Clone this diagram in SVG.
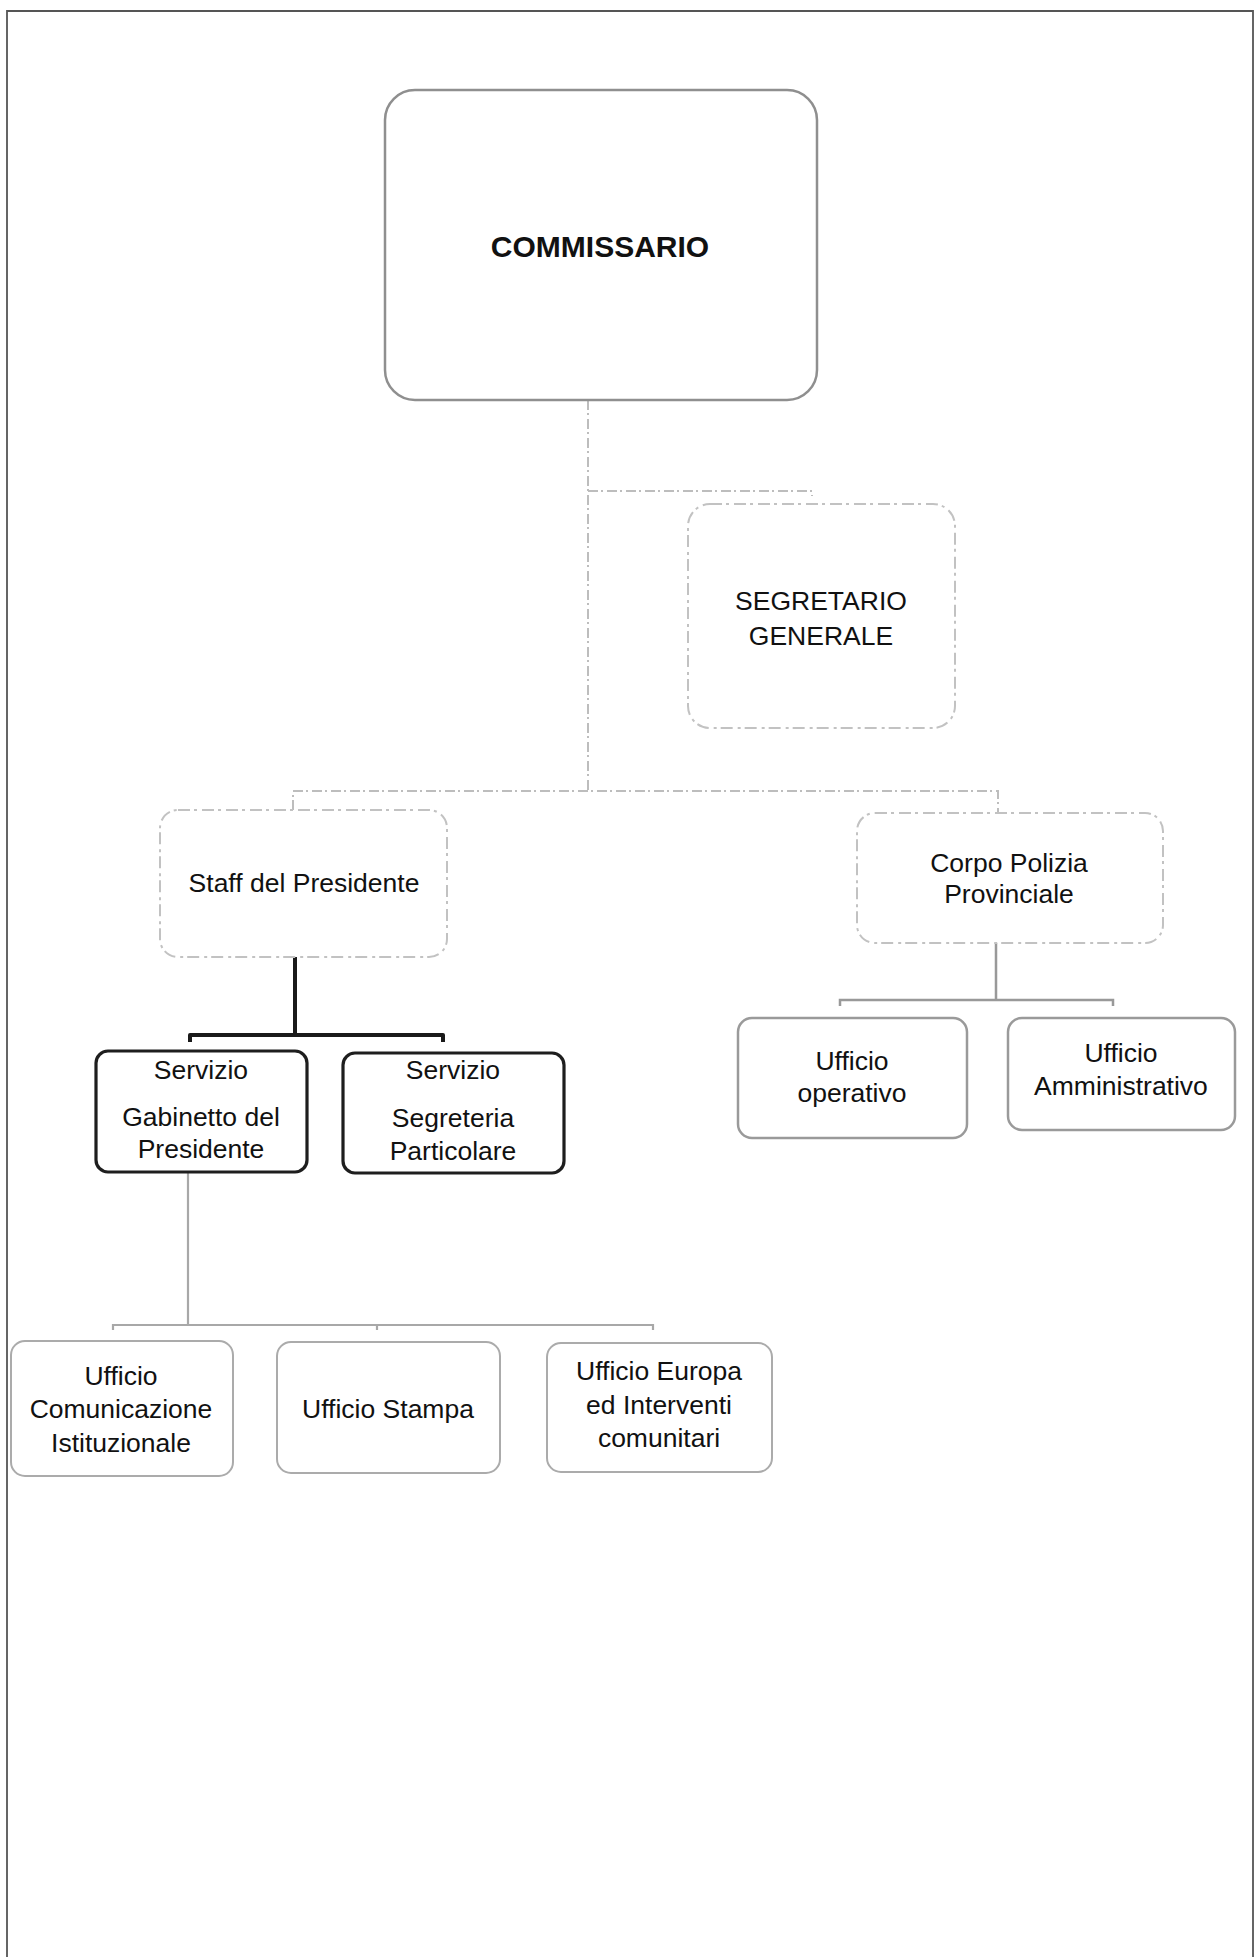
<svg xmlns="http://www.w3.org/2000/svg" width="1256" height="1957" viewBox="0 0 1256 1957">
<style>
text{font-family:"Liberation Sans",Arial,sans-serif;font-size:26.5px;fill:#111;text-anchor:middle}
.b{font-weight:bold;font-size:30px}
.main{fill:#fff;stroke:#8f8f8f;stroke-width:2.5}
.faint{fill:#fff;stroke:#c2c2c2;stroke-width:2;stroke-dasharray:12 4 3 5}
.mid{fill:#fff;stroke:#9a9a9a;stroke-width:2.5}
.light{fill:#fff;stroke:#ababab;stroke-width:2}
.dark{fill:#fff;stroke:#1e1e1e;stroke-width:3.2}
.c-faint{fill:none;stroke:#bdbdbd;stroke-width:2;stroke-dasharray:10 3 2 4}
.c-mid{fill:none;stroke:#999;stroke-width:2.5}
.c-dark{fill:none;stroke:#1a1a1a;stroke-width:4;stroke-linejoin:round}
.c-light{fill:none;stroke:#a8a8a8;stroke-width:2.2}
</style>
<rect x="0" y="0" width="1256" height="1957" fill="#fff"/>
<path d="M7 1957 V11 H1253 V1957" fill="none" stroke="#555" stroke-width="1.8"/>
<g id="connectors">
<path class="c-faint" d="M588 400 V791"/>
<path class="c-faint" d="M588 491 H812 V496"/>
<path class="c-faint" d="M293 810 V791 H998 V813"/>
<path class="c-dark" d="M295 957 V1035 M190 1042 V1035 H443 V1042"/>
<path class="c-mid" d="M996 943 V1000 M840 1006 V1000 H1113 V1006"/>
<path class="c-light" d="M188 1172 V1325 M113 1330 V1325 H653 V1330 M377 1325 V1330"/>
</g>
<g id="commissario">
<rect class="main" x="385" y="90" width="432" height="310" rx="30"/>
<text class="b" x="600" y="257">COMMISSARIO</text>
</g>
<g id="segretario">
<rect class="faint" x="688" y="504" width="267" height="224" rx="22"/>
<text x="821" y="610">SEGRETARIO</text>
<text x="821" y="645">GENERALE</text>
</g>
<g id="staff">
<rect class="faint" x="160" y="810" width="287" height="147" rx="18"/>
<text x="304" y="892">Staff del Presidente</text>
</g>
<g id="corpo">
<rect class="faint" x="857" y="813" width="306" height="130" rx="18"/>
<text x="1009" y="872">Corpo Polizia</text>
<text x="1009" y="903">Provinciale</text>
</g>
<g id="gabinetto">
<rect class="dark" x="96" y="1051" width="211" height="121" rx="12"/>
<text x="201" y="1079">Servizio</text>
<text x="201" y="1126">Gabinetto del</text>
<text x="201" y="1158">Presidente</text>
</g>
<g id="segreteria">
<rect class="dark" x="343" y="1053" width="221" height="120" rx="12"/>
<text x="453" y="1079">Servizio</text>
<text x="453" y="1127">Segreteria</text>
<text x="453" y="1160">Particolare</text>
</g>
<g id="operativo">
<rect class="mid" x="738" y="1018" width="229" height="120" rx="14"/>
<text x="852" y="1070">Ufficio</text>
<text x="852" y="1102">operativo</text>
</g>
<g id="amministrativo">
<rect class="mid" x="1008" y="1018" width="227" height="112" rx="14"/>
<text x="1121" y="1062">Ufficio</text>
<text x="1121" y="1095">Amministrativo</text>
</g>
<g id="comunicazione">
<rect class="light" x="11" y="1341" width="222" height="135" rx="14"/>
<text x="121" y="1385">Ufficio</text>
<text x="121" y="1418">Comunicazione</text>
<text x="121" y="1452">Istituzionale</text>
</g>
<g id="stampa">
<rect class="light" x="277" y="1342" width="223" height="131" rx="14"/>
<text x="388" y="1418">Ufficio Stampa</text>
</g>
<g id="europa">
<rect class="light" x="547" y="1343" width="225" height="129" rx="14"/>
<text x="659" y="1380">Ufficio Europa</text>
<text x="659" y="1414">ed Interventi</text>
<text x="659" y="1447">comunitari</text>
</g>
</svg>
